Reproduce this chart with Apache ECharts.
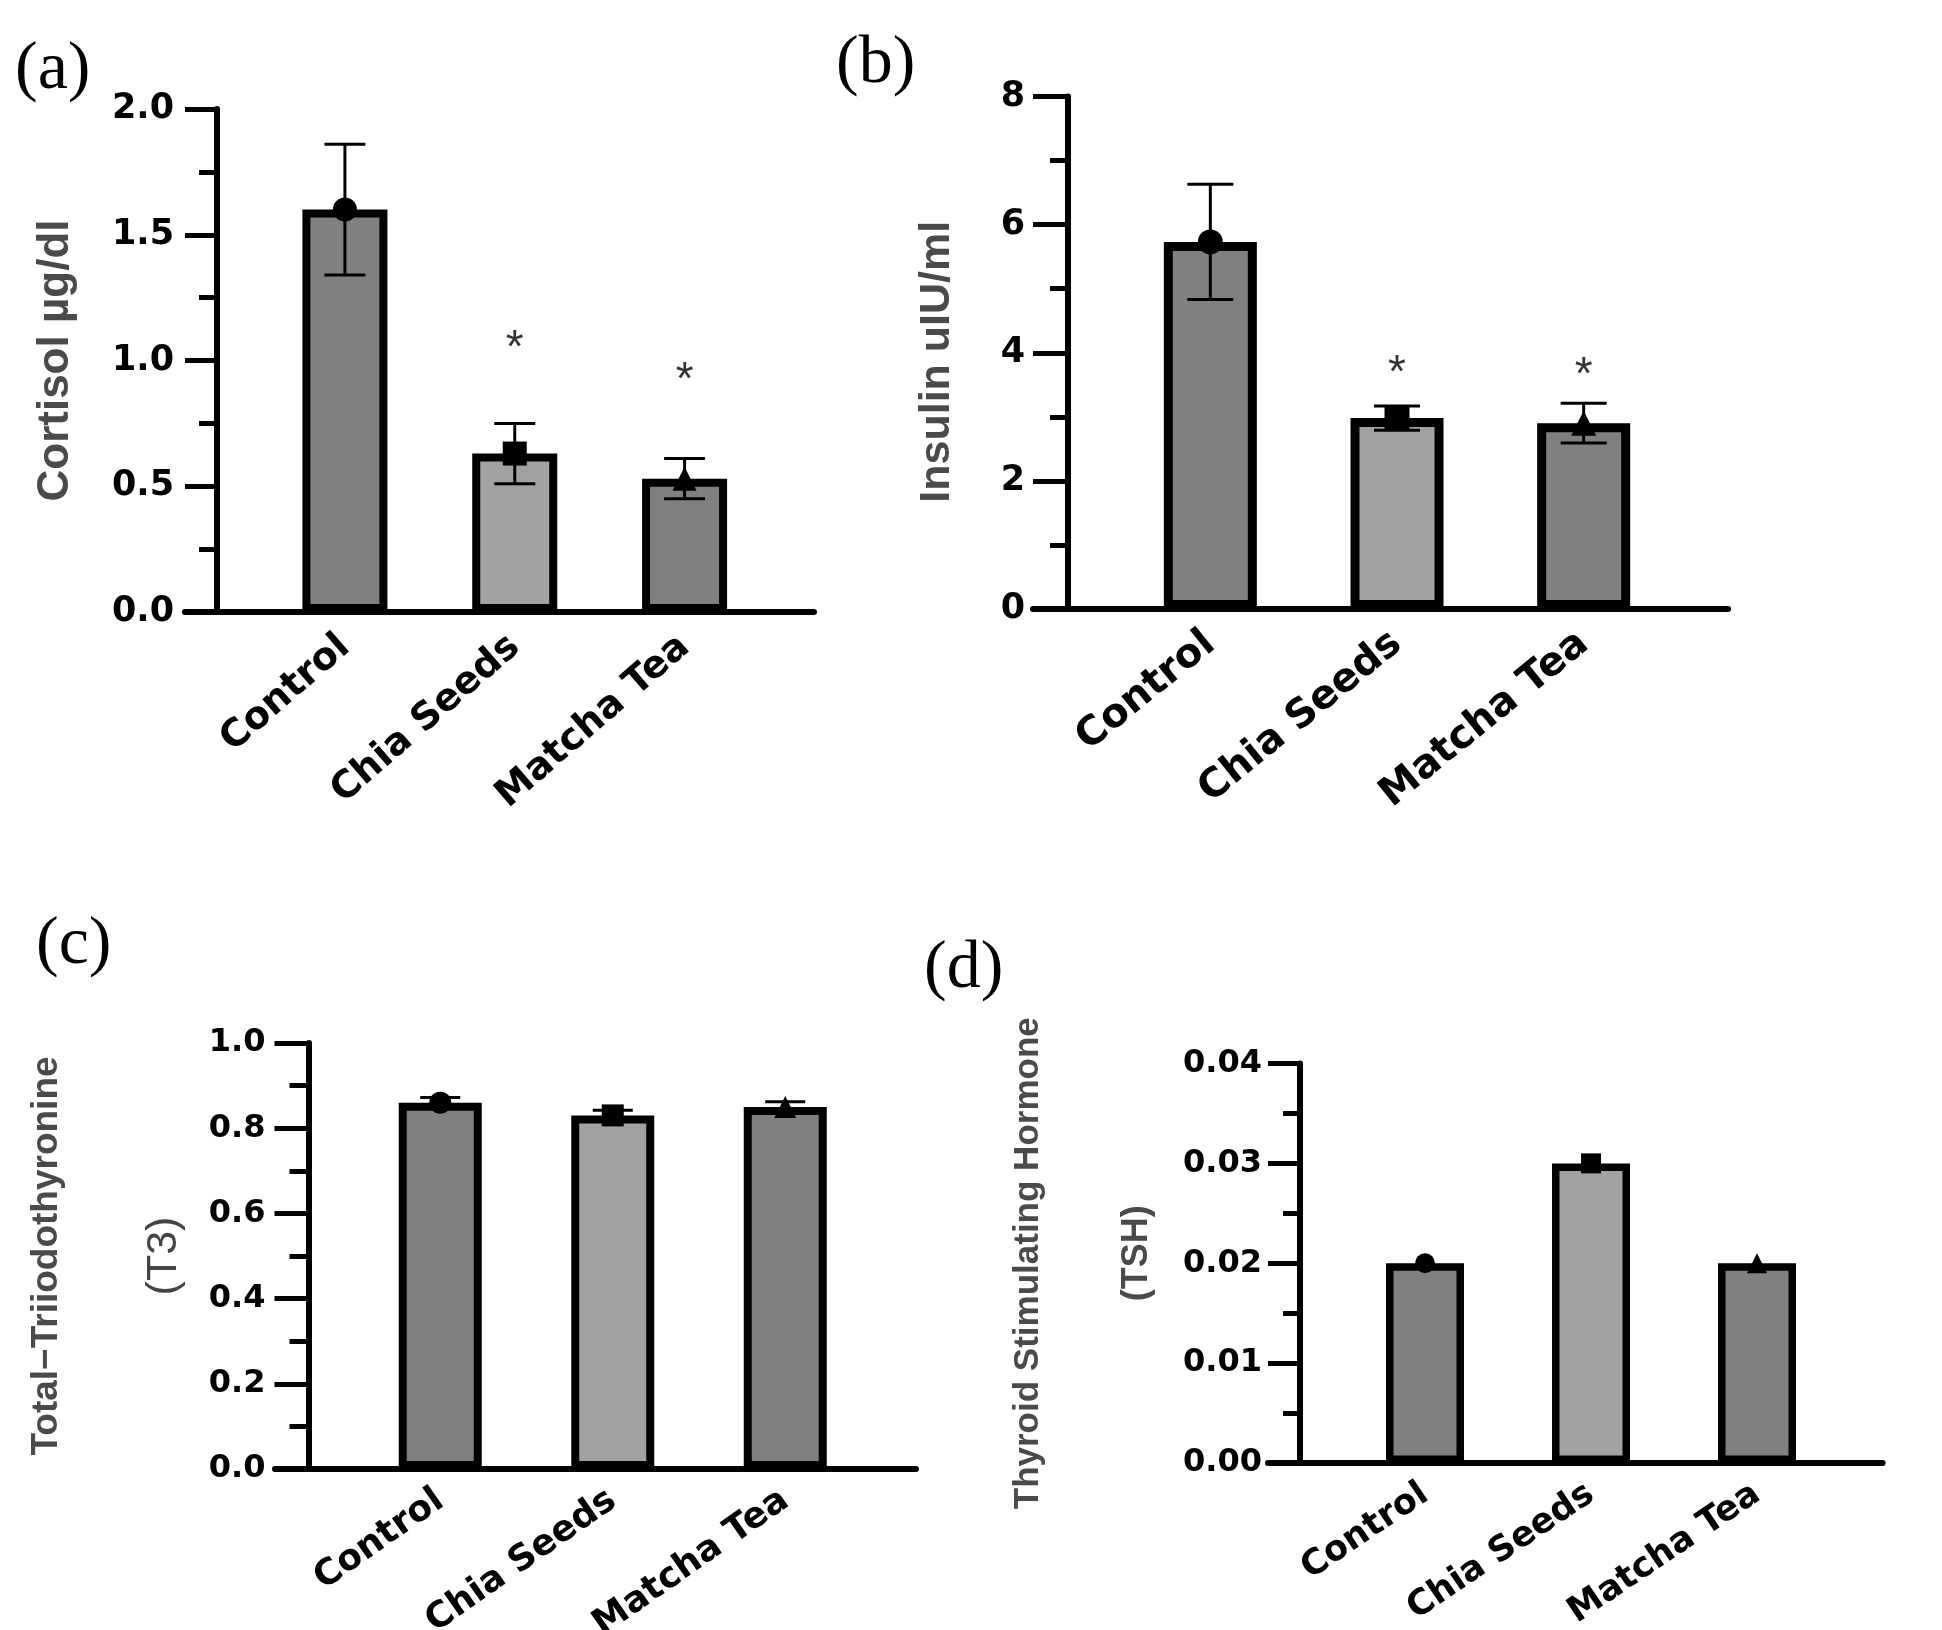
<!DOCTYPE html>
<html>
<head>
<meta charset="utf-8">
<title>Hormone levels</title>
<script src="https://cdn.jsdelivr.net/npm/echarts@6/dist/echarts.min.js"></script>
<style>
  html, body { margin: 0; padding: 0; background: #fff; }
  #chart { width: 1942px; height: 1630px; }
</style>
</head>
<body>
<div id="chart"></div>
<script>
    // groups and values
    var groups = ['Control', 'Chia Seeds', 'Matcha Tea'];

    var cortisolMean = [1.6, 0.63, 0.53];
    var cortisolErr = [0.26, 0.12, 0.08];
    var cortisolStar = [null, 1.09, 0.96];

    var insulinMean = [5.73, 2.98, 2.9];
    var insulinErr = [0.9, 0.19, 0.31];
    var insulinStar = [null, 3.84, 3.80];

    var t3Mean = [0.86, 0.83, 0.85];
    var t3Err = [0.012, 0.012, 0.012];

    var tshMean = [0.02, 0.03, 0.02];
    var tshErr = [0, 0, 0];

    var barColors = ['#808080', '#a2a2a2', '#808080'];
    var markers = ['circle', 'rect', 'triangle'];

    var chart = echarts.init(document.getElementById('chart'), null, {renderer: 'canvas'});

    var grids = [], xAxes = [], yAxes = [], series = [], titles = [];

    function addPanel(p) {
        var gi = grids.length;
        // plotting grid, plus a wider one that only carries the long x axis line
        grids.push({left: p.left, top: p.top, width: p.width, height: p.height, outerBoundsMode: 'none'});
        grids.push({left: p.lineLeft, top: p.top, width: p.lineWidth, height: p.height, outerBoundsMode: 'none'});

        xAxes.push({
            type: 'category', gridIndex: gi, data: groups,
            axisLine: {show: false},
            axisTick: {alignWithLabel: true, length: 12, lineStyle: {color: '#000', width: 4}},
            axisLabel: {
                interval: 0, rotate: p.rotate, margin: p.catMargin, color: '#000',
                fontFamily: 'DejaVu Sans', fontWeight: 'bold', fontSize: p.catFont
            }
        });
        xAxes.push({
            type: 'value', gridIndex: gi + 1, min: 0, max: 1,
            axisLine: {show: true, lineStyle: {color: '#000', width: 6}},
            axisTick: {show: false}, axisLabel: {show: false}, splitLine: {show: false}
        });

        yAxes.push({
            type: 'value', gridIndex: gi, min: 0, max: p.max, interval: p.interval, offset: p.offset,
            axisLine: {show: true, lineStyle: {color: '#000', width: 6}},
            axisTick: {show: true, length: p.tickLen, lineStyle: {color: '#000', width: 5}},
            minorTick: {show: true, splitNumber: 2, length: p.minorLen, lineStyle: {color: '#000', width: 5}},
            splitLine: {show: false},
            axisLabel: {
                margin: p.labelMargin, color: '#000',
                fontFamily: 'DejaVu Sans', fontWeight: 'bold', fontSize: p.labelFont,
                formatter: function (v) { return v.toFixed(p.digits); }
            },
            name: p.name, nameLocation: 'middle', nameRotate: 90, nameGap: p.nameGap,
            nameMoveOverlap: false,
            nameTextStyle: p.nameStyle
        });
        yAxes.push({type: 'value', gridIndex: gi + 1, min: 0, max: p.max, show: false});

        series.push({
            type: 'bar', xAxisIndex: gi, yAxisIndex: gi, barWidth: p.barWidth, z: 2,
            itemStyle: {borderColor: '#000', borderWidth: p.border},
            data: p.mean.map(function (v, i) {
                return {value: v, itemStyle: {color: barColors[i]}};
            })
        });

        series.push({
            type: 'custom', xAxisIndex: gi, yAxisIndex: gi, z: 3,
            data: p.mean.map(function (v, i) { return [i, v, p.err[i]]; }),
            renderItem: function (params, api) {
                var i = api.value(0), m = api.value(1), e = api.value(2);
                if (!e) return;
                var hi = api.coord([i, m + e]);
                var lo = api.coord([i, m - e]);
                var w = p.capW / 2;
                var st = {stroke: '#000', lineWidth: 3};
                return {
                    type: 'group',
                    children: [
                        {type: 'line', shape: {x1: hi[0], y1: hi[1], x2: lo[0], y2: lo[1]}, style: st},
                        {type: 'line', shape: {x1: hi[0] - w, y1: hi[1], x2: hi[0] + w, y2: hi[1]}, style: st},
                        {type: 'line', shape: {x1: lo[0] - w, y1: lo[1], x2: lo[0] + w, y2: lo[1]}, style: st}
                    ]
                };
            }
        });

        series.push({
            type: 'scatter', xAxisIndex: gi, yAxisIndex: gi, z: 4, symbolSize: p.sym,
            itemStyle: {color: '#000', opacity: 1},
            data: p.mean.map(function (v, i) {
                return {value: [i, v], symbol: markers[i]};
            })
        });

        if (p.star) {
            var stars = [];
            p.star.forEach(function (v, i) { if (v != null) stars.push([i, v]); });
            series.push({
                type: 'scatter', xAxisIndex: gi, yAxisIndex: gi, z: 5, symbolSize: 1,
                itemStyle: {color: 'rgba(0,0,0,0)'},
                label: {
                    show: true, position: 'inside', formatter: '*', offset: [0, 11],
                    fontFamily: 'Liberation Sans', fontSize: 46, color: '#000'
                },
                data: stars
            });
        }

        titles.push({
            text: p.tag, left: p.tagLeft, top: p.tagTop, padding: 0,
            textStyle: {fontFamily: 'Liberation Serif', fontWeight: 'normal', fontSize: 68, color: '#000'}
        });
    }

    var nameGray = '#4a4a4a';

    addPanel({
        tag: '(a)', tagLeft: 15, tagTop: 36,
        left: 260, top: 109, width: 509.5, height: 503,
        lineLeft: 185, lineWidth: 629, offset: 43,
        max: 2, interval: 0.5, digits: 1,
        tickLen: 32, minorLen: 18, labelMargin: 43, labelFont: 35,
        catFont: 38, rotate: 41, catMargin: 30,
        barWidth: 85, border: 8, capW: 41, sym: 24,
        mean: cortisolMean, err: cortisolErr, star: cortisolStar,
        name: 'Cortisol µg/dl', nameGap: 139,
        nameStyle: {fontFamily: 'Liberation Sans', fontWeight: 'bold', fontSize: 44, color: nameGray}
    });

    addPanel({
        tag: '(b)', tagLeft: 836, tagTop: 30,
        left: 1117, top: 96.5, width: 560, height: 512.5,
        lineLeft: 1033, lineWidth: 695, offset: 49,
        max: 8, interval: 2, digits: 0,
        tickLen: 35, minorLen: 18, labelMargin: 43, labelFont: 35,
        catFont: 40, rotate: 39, catMargin: 30,
        barWidth: 93, border: 9, capW: 46, sym: 25,
        mean: insulinMean, err: insulinErr, star: insulinStar,
        name: 'Insulin uIU/ml', nameGap: 109,
        nameStyle: {fontFamily: 'Liberation Sans', fontWeight: 'bold', fontSize: 43, color: nameGray, padding: [0, 18, 0, 0]}
    });

    addPanel({
        tag: '(c)', tagLeft: 36, tagTop: 911,
        left: 354, top: 1043, width: 517.5, height: 426,
        lineLeft: 275, lineWidth: 641, offset: 45.5,
        max: 1, interval: 0.2, digits: 1,
        tickLen: 34, minorLen: 19, labelMargin: 43, labelFont: 32,
        catFont: 36, rotate: 35, catMargin: 28,
        barWidth: 83, border: 8, capW: 40, sym: 22,
        mean: t3Mean, err: t3Err, star: null,
        name: '{a|Total\u2212Triiodothyronine}\n{b|(T3)}', nameGap: 86,
        nameStyle: {
            rich: {
                a: {fontFamily: 'Liberation Sans', fontWeight: 'bold', fontSize: 37, color: nameGray, lineHeight: 117},
                b: {fontFamily: 'Liberation Sans', fontWeight: 'normal', fontSize: 43, color: '#444', lineHeight: 117}
            }
        }
    });

    addPanel({
        tag: '(d)', tagLeft: 924, tagTop: 935,
        left: 1342, top: 1063.5, width: 498, height: 399.5,
        lineLeft: 1268, lineWidth: 614.6, offset: 42,
        max: 0.04, interval: 0.01, digits: 2,
        tickLen: 32, minorLen: 17, labelMargin: 38, labelFont: 32,
        catFont: 35, rotate: 34, catMargin: 28,
        barWidth: 78, border: 7.5, capW: 36, sym: 20,
        mean: tshMean, err: tshErr, star: null,
        name: '{a|Thyroid Stimulating Hormone}\n{b|(TSH)}', nameGap: 108,
        nameStyle: {
            rich: {
                a: {fontFamily: 'Liberation Sans', fontWeight: 'bold', fontSize: 35, color: nameGray, lineHeight: 109},
                b: {fontFamily: 'Liberation Sans', fontWeight: 'bold', fontSize: 36, color: nameGray, lineHeight: 109, padding: [0, 0, 0, 20]}
            }
        }
    });

    chart.setOption({
        backgroundColor: '#fff',
        animation: false,
        title: titles,
        grid: grids,
        xAxis: xAxes,
        yAxis: yAxes,
        series: series
    });
</script>
</body>
</html>
